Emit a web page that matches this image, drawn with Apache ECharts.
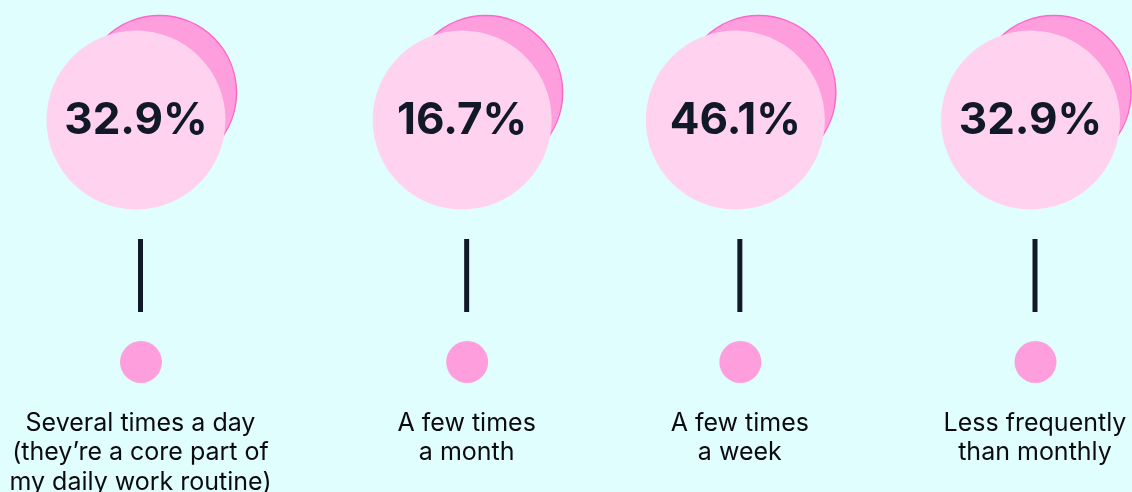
<!DOCTYPE html>
<html>
<head>
<meta charset="utf-8">
<style>
  html, body { margin: 0; padding: 0; background: #e1feff; }
  #chart { width: 1132px; height: 492px; }
</style>
<script src="https://cdn.jsdelivr.net/npm/echarts@6/dist/echarts.min.js"></script>
</head>
<body>
<div id="chart"></div>
<script>
const categories = [
    'Several times a day\n(they\u2019re a core part of\nmy daily work routine)',
    'A few times\na month',
    'A few times\na week',
    'Less frequently\nthan monthly'
];
const shares = [32.9, 16.7, 46.1, 32.9];

// layout nudges per column (pixels), the source spaces columns unevenly
const COL_SHIFT = [0, 28, 3, 0];

const INK       = '#111827';
const PINK_SOFT = '#ffd3f0';
const PINK_MID  = '#ff9edd';
const PINK_EDGE = '#ff66cc';

const chart = echarts.init(document.getElementById('chart'));

chart.setOption({
    backgroundColor: '#e1feff',
    animation: false,
    grid: { left: 140.5, right: 97, top: 0, bottom: 0 },
    xAxis: { type: 'category', data: categories, boundaryGap: false, show: false },
    yAxis: { type: 'value', min: 0, max: 100, show: false },
    series: [{
        type: 'custom',
        clip: false,
        data: shares.map((v, i) => [i, v]),
        renderItem: (params, api) => {
            const i = params.dataIndex;
            const x = api.coord([api.value(0), 0])[0] + COL_SHIFT[i];
            const cx = x - 4.5, cy = 120;
            return {
                type: 'group',
                children: [
                    { type: 'circle', shape: { cx: cx + 23.5, cy: cy - 27.5, r: 77 },
                      style: { fill: PINK_MID, stroke: PINK_EDGE, lineWidth: 1.5 } },
                    { type: 'circle', shape: { cx: cx, cy: cy, r: 89.5 },
                      style: { fill: PINK_SOFT } },
                    { type: 'text',
                      style: { text: api.value(1).toFixed(1) + '%', x: cx, y: cy + 1,
                               fill: INK, fontFamily: 'Inter', fontWeight: 700, fontSize: 44,
                               align: 'center', verticalAlign: 'middle' } },
                    { type: 'rect', shape: { x: x - 2.5, y: 239, width: 5, height: 73 },
                      style: { fill: INK } },
                    { type: 'circle', shape: { cx: x + 0.5, cy: 362, r: 21 },
                      style: { fill: PINK_MID } },
                    { type: 'text',
                      style: { text: categories[i], x: x, y: 408.5,
                               fill: '#0b0b0f', fontFamily: 'Inter', fontSize: 25,
                               lineHeight: 29.5, align: 'center', verticalAlign: 'top' } }
                ]
            };
        }
    }]
});
</script>
</body>
</html>
